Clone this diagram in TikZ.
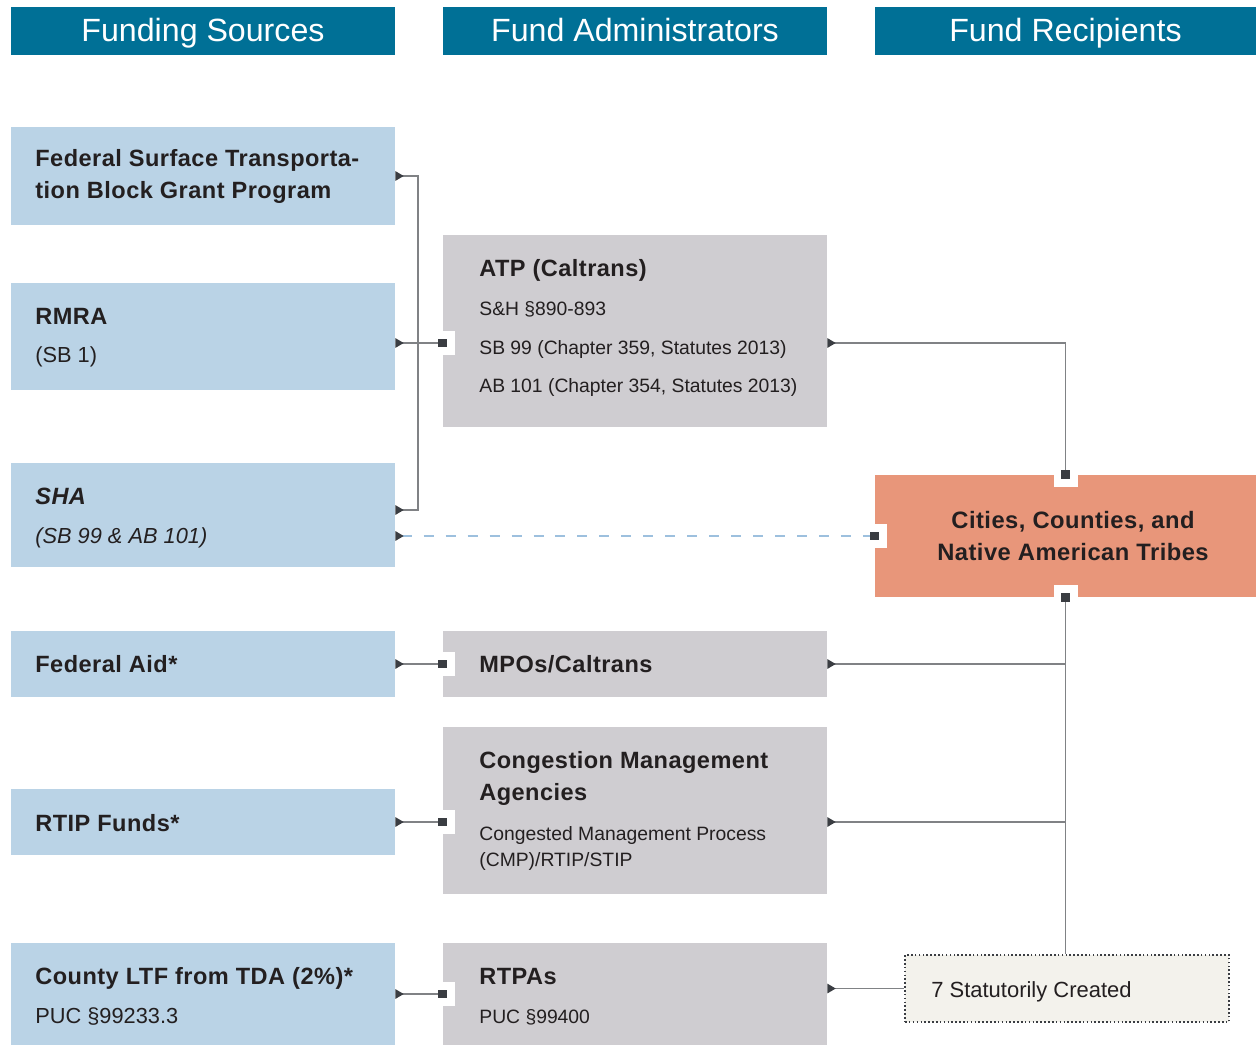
\documentclass[tikz,border=0pt]{standalone}
\usepackage{fontspec}
\setmainfont{Liberation Sans}
\newfontfamily\titlefont[LetterSpace=2]{Liberation Sans}
\usetikzlibrary{arrows.meta}

\definecolor{hdrblue}{RGB}{0,112,150}
\definecolor{srcblue}{RGB}{186,211,230}
\definecolor{admgray}{RGB}{207,205,209}
\definecolor{recorange}{RGB}{232,150,122}
\definecolor{statfill}{RGB}{243,242,236}
\definecolor{ink}{RGB}{35,31,32}
\definecolor{linegray}{RGB}{128,130,133}
\definecolor{tipdark}{RGB}{58,61,66}
\definecolor{dashblue}{RGB}{157,192,222}

% white cut-outs where a connector meets a box
\newcommand\notchW[1]{\fill[white] (#1) ++(0,-12) rectangle ++(12,24);}
\newcommand\notchN[1]{\fill[white] (#1) ++(-12,0) rectangle ++(24,12);}
\newcommand\notchS[1]{\fill[white] (#1) ++(-12,0) rectangle ++(24,-12);}

\begin{document}
\begin{tikzpicture}[x=0.02cm, y=-0.02cm,
    hdr/.style={fill=hdrblue, text=white, minimum width=7.68cm, minimum height=0.96cm,
      inner sep=0, text height=0.5cm, text depth=0.1cm, font=\fontsize{18.3}{20}\selectfont},
    srcbox/.style={fill=srcblue, minimum width=7.68cm, inner sep=0},
    admbox/.style={fill=admgray, minimum width=7.68cm, inner sep=0},
    ttl/.style={anchor=base west, inner sep=0, text=ink,
      font=\titlefont\fontsize{13.4}{15}\selectfont\bfseries},
    ttli/.style={ttl, font=\titlefont\fontsize{13.4}{15}\selectfont\bfseries\itshape},
    sub/.style={anchor=base west, inner sep=0, text=ink, font=\fontsize{11}{13}\selectfont},
    srcsub/.style={sub, font=\fontsize{12.4}{14}\selectfont},
    srcsubi/.style={sub, font=\fontsize{12.4}{14}\selectfont\itshape},
    link/.style={draw=linegray, line width=0.8pt},
    dashlink/.style={draw=dashblue, line width=0.9pt, dash pattern=on 5.7pt off 6.8pt},
    tri/.tip={Triangle[reversed, length=4.8pt, width=5.4pt, color=tipdark]},
    sq/.tip={Square[length=5pt, width=5pt, color=tipdark]}]
  \useasboundingbox (0,0) rectangle (1256,1045);

  % column heads
  \node[hdr] (hsrc) at (203,31) {Funding Sources};
  \node[hdr] (hadm) at (635,31) {Fund Administrators};
  \node[hdr, minimum width=7.62cm] (hrec) at (1065.5,31) {Fund Recipients};

  % funding sources
  \node[srcbox, minimum height=1.96cm] (fs) at (203,176) {};
  \node[srcbox, minimum height=2.14cm] (rmra) at (203,336.5) {};
  \node[srcbox, minimum height=2.08cm] (sha) at (203,515) {};
  \node[srcbox, minimum height=1.32cm] (fa) at (203,664) {};
  \node[srcbox, minimum height=1.32cm] (rtip) at (203,822) {};
  \node[srcbox, minimum height=2.04cm] (ltf) at (203,994) {};

  % administrators
  \node[admbox, minimum height=3.84cm] (atp) at (635,331) {};
  \node[admbox, minimum height=1.32cm] (mpo) at (635,664) {};
  \node[admbox, minimum height=3.34cm] (cma) at (635,810.5) {};
  \node[admbox, minimum height=2.04cm] (rtpa) at (635,994) {};

  % recipients
  \node[fill=recorange, minimum width=7.62cm, minimum height=2.44cm, inner sep=0] (cities) at (1065.5,536) {};
  \node[fill=statfill, draw=tipdark, line width=0.8pt, dash pattern=on 0.9pt off 1.3pt,
    minimum width=6.48cm, minimum height=1.34cm, inner sep=0] (stat) at (1067,988.5) {};

  \coordinate (trunk) at (418,343);

  \notchW{atp.west |- trunk}
  \notchW{mpo.west}
  \notchW{cma.west |- rtip.east}
  \notchW{rtpa.west}
  \notchW{cities.west}
  \notchN{cities.north}
  \notchS{cities.south}

  % connectors
  \draw[link, tri-tri] (fs.east) -| (trunk) |- ([yshift=0.1cm]sha.east);
  \draw[link, tri-sq, shorten >=-2.5pt] (rmra.east |- trunk) -- (atp.west |- trunk);
  \draw[link, tri-sq, shorten >=-2.5pt] (fa.east) -- (mpo.west);
  \draw[link, tri-sq, shorten >=-2.5pt] (rtip.east) -- (cma.west |- rtip.east);
  \draw[link, tri-sq, shorten >=-2.5pt] (ltf.east) -- (rtpa.west);
  \draw[dashlink, tri-sq, shorten >=-2.5pt] (sha.east |- cities.west) -- (cities.west);
  \draw[link, tri-sq, shorten >=-2.5pt] (atp.east |- trunk) -| (cities.north);
  \draw[link, -sq, shorten >=-2.5pt] (cities.south |- stat.north) -- (cities.south);
  \draw[link, tri-] (mpo.east) -- (mpo.east -| cities.south);
  \draw[link, tri-] (cma.east |- rtip.east) -- (rtip.east -| cities.south);
  \draw[link, tri-] (rtpa.east |- stat.west) -- (stat.west);

  % texts
  \node[ttl] (fs-a) at (35,166) {Federal Surface Transporta-};
  \node[ttl] (fs-b) at (35,198) {tion Block Grant Program};
  \node[ttl] (rmra-a) at (35,324) {RMRA};
  \node[srcsub] (rmra-b) at (35,362) {(SB 1)};
  \node[ttli] (sha-a) at (35,504) {SHA};
  \node[srcsubi] (sha-b) at (35,543) {(SB 99 \& AB 101)};
  \node[ttl] (fa-a) at (35,672) {Federal Aid*};
  \node[ttl] (rtip-a) at (35,831) {RTIP Funds*};
  \node[ttl] (ltf-a) at (35,984) {County LTF from TDA (2\%)*};
  \node[srcsub] (ltf-b) at (35,1023) {PUC §99233.3};

  \node[ttl] (atp-a) at (479,276) {ATP (Caltrans)};
  \node[sub] (atp-b) at (479,315) {S\&H §890-893};
  \node[sub] (atp-c) at (479,354) {SB 99 (Chapter 359, Statutes 2013)};
  \node[sub] (atp-d) at (479,392) {AB 101 (Chapter 354, Statutes 2013)};
  \node[ttl] (mpo-a) at (479,672) {MPOs/Caltrans};
  \node[ttl] (cma-a) at (479,768) {Congestion Management};
  \node[ttl] (cma-b) at (479,800) {Agencies};
  \node[sub] (cma-c) at (479,840) {Congested Management Process};
  \node[sub] (cma-d) at (479,866) {(CMP)/RTIP/STIP};
  \node[ttl] (rtpa-a) at (479,984) {RTPAs};
  \node[sub] (rtpa-b) at (479,1023) {PUC §99400};

  \node[ttl, anchor=base, font=\titlefont\fontsize{13.5}{15}\selectfont\bfseries] (cit-a) at (1073,528) {Cities, Counties, and};
  \node[ttl, anchor=base, font=\titlefont\fontsize{13.5}{15}\selectfont\bfseries] (cit-b) at (1073,560) {Native American Tribes};
  \node[sub, font=\fontsize{12.5}{14}\selectfont] (stat-a) at (931,997) {7 Statutorily Created};
\end{tikzpicture}
\end{document}
